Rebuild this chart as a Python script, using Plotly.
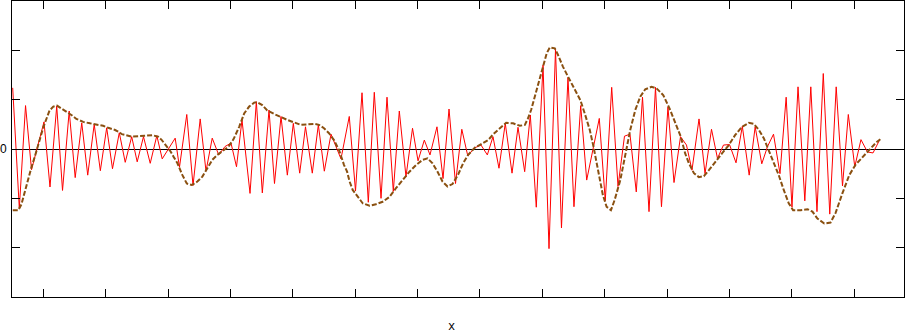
import plotly.graph_objects as go

# red modulated signal: extremes (x in tick units, y values)
signal_x = [-0.491, -0.385, -0.285, -0.189, 0.011, 0.107, 0.215, 0.308, 0.415, 0.511,
            0.616, 0.712, 0.816, 0.914, 1.016, 1.109, 1.218, 1.313, 1.417, 1.505,
            1.606, 1.714, 1.820, 1.906, 2.114, 2.183, 2.300, 2.400, 2.515, 2.608,
            2.708, 2.812, 2.913, 3.009, 3.097, 3.185, 3.314, 3.415, 3.511, 3.618,
            3.706, 3.811, 3.912, 4.008, 4.110, 4.203, 4.312, 4.409, 4.505, 4.612,
            4.772, 4.905, 5.005, 5.109, 5.210, 5.306, 5.414, 5.510, 5.611, 5.707,
            5.814, 5.919, 6.007, 6.108, 6.199, 6.311, 6.408, 6.504, 6.608, 6.709,
            6.805, 6.909, 7.017, 7.118, 7.209, 7.305, 7.406, 7.514, 7.610, 7.717,
            7.807, 7.903, 8.011, 8.107, 8.211, 8.307, 8.411, 8.507, 8.615, 8.711,
            8.913, 9.009, 9.112, 9.213, 9.317, 9.405, 9.506, 9.606, 9.710, 9.814,
            9.910, 10.014, 10.111, 10.215, 10.311, 10.399, 10.512, 10.608, 10.712, 10.808,
            10.904, 11.001, 11.105, 11.206, 11.316, 11.412, 11.518, 11.610, 11.706, 11.810,
            11.909, 12.002, 12.099, 12.208, 12.304, 12.403, 12.504, 12.608, 12.711, 12.812,
            12.905, 13.009, 13.108, 13.212, 13.301, 13.405]
signal_y = [1.24, -1.20, 0.88, -0.42, 0.55, -0.77, 0.87, -0.84, 0.77, -0.58,
            0.53, -0.53, 0.50, -0.44, 0.43, -0.40, 0.33, -0.27, 0.25, -0.26,
            0.25, -0.29, 0.27, -0.20, 0.22, -0.37, 0.70, -0.74, 0.61, -0.45,
            0.22, -0.12, 0.05, 0.12, -0.36, 0.59, -0.90, 0.96, -0.89, 0.79,
            -0.70, 0.66, -0.53, 0.52, -0.49, 0.45, -0.49, 0.49, -0.45, 0.30,
            -0.20, 0.66, -0.85, 1.14, -1.08, 1.15, -1.00, 1.05, -0.86, 0.77,
            -0.56, 0.42, -0.24, 0.18, -0.12, 0.45, -0.60, 0.81, -0.70, 0.40,
            -0.14, 0.02, 0.08, -0.12, 0.25, -0.39, 0.52, -0.49, 0.44, -0.46,
            0.69, -1.18, 1.70, -2.02, 2.02, -1.60, 1.45, -1.17, 0.88, -0.63,
            0.62, -1.05, 1.25, -0.76, 0.26, 0.30, -0.87, 1.05, -1.27, 1.25,
            -1.17, 0.85, -0.68, 0.25, 0.08, -0.43, 0.61, -0.50, 0.40, -0.19,
            0.08, 0.09, -0.28, 0.46, -0.53, 0.45, -0.30, 0.05, 0.30, -0.50,
            1.05, -1.18, 1.26, -1.05, 1.26, -1.27, 1.53, -1.32, 1.26, -0.75,
            0.70, -0.36, 0.19, -0.06, -0.08, 0.18]

# brown dashed envelope
envelope_x = [-0.49, -0.40, -0.35, -0.29, -0.24, -0.19, -0.14, -0.105, -0.05, 0.0,
              0.05, 0.10, 0.16, 0.22, 0.29, 0.37, 0.45, 0.53, 0.64, 0.75,
              0.86, 0.96, 1.04, 1.15, 1.23, 1.26, 1.42, 1.53, 1.64, 1.75,
              1.84, 1.90, 1.98, 2.04, 2.09, 2.15, 2.23, 2.30, 2.38, 2.47,
              2.55, 2.63, 2.71, 2.79, 2.87, 2.97, 3.05, 3.14, 3.22, 3.30,
              3.38, 3.43, 3.51, 3.59, 3.70, 3.81, 3.91, 4.02, 4.13, 4.23,
              4.34, 4.42, 4.50, 4.58, 4.66, 4.74, 4.82, 4.87, 4.91, 4.96,
              5.04, 5.12, 5.23, 5.33, 5.44, 5.55, 5.65, 5.76, 5.87, 5.98,
              6.08, 6.16, 6.24, 6.32, 6.40, 6.48, 6.56, 6.65, 6.73, 6.81,
              6.92, 7.02, 7.13, 7.23, 7.34, 7.42, 7.53, 7.64, 7.72, 7.77,
              7.82, 7.90, 7.96, 8.01, 8.07, 8.12, 8.20, 8.25, 8.33, 8.41,
              8.44, 8.52, 8.61, 8.68, 8.76, 8.82, 8.87, 8.92, 8.97, 9.03,
              9.10, 9.16, 9.25, 9.33, 9.41, 9.49, 9.57, 9.65, 9.75, 9.83,
              9.94, 10.05, 10.13, 10.21, 10.24, 10.29, 10.35, 10.43, 10.51, 10.59,
              10.67, 10.77, 10.88, 10.99, 11.09, 11.20, 11.31, 11.39, 11.47, 11.55,
              11.63, 11.71, 11.79, 11.87, 11.95, 12.02, 12.14, 12.25, 12.33, 12.41,
              12.52, 12.62, 12.70, 12.81, 12.92, 13.02, 13.13, 13.24, 13.35, 13.42]
envelope_y = [-1.24, -1.24, -1.12, -0.82, -0.57, -0.37, -0.17, 0.0, 0.22, 0.44,
              0.63, 0.78, 0.86, 0.88, 0.82, 0.76, 0.69, 0.61, 0.55, 0.52,
              0.49, 0.47, 0.43, 0.385, 0.33, 0.30, 0.25, 0.26, 0.28, 0.28,
              0.25, 0.18, 0.05, -0.05, -0.16, -0.29, -0.53, -0.70, -0.73, -0.66,
              -0.56, -0.39, -0.22, -0.12, -0.05, 0.05, 0.20, 0.45, 0.72, 0.86,
              0.94, 0.95, 0.89, 0.78, 0.71, 0.64, 0.59, 0.54, 0.49, 0.50,
              0.51, 0.49, 0.42, 0.32, 0.18, -0.02, -0.32, -0.46, -0.66, -0.83,
              -0.97, -1.10, -1.15, -1.12, -1.07, -0.97, -0.80, -0.63, -0.46, -0.32,
              -0.22, -0.19, -0.29, -0.46, -0.66, -0.76, -0.71, -0.52, -0.29, -0.12,
              0.03, 0.10, 0.18, 0.32, 0.45, 0.53, 0.52, 0.47, 0.49, 0.62,
              0.79, 1.16, 1.43, 1.70, 1.94, 2.06, 2.04, 1.91, 1.67, 1.47,
              1.40, 1.20, 0.99, 0.72, 0.39, 0.05, -0.29, -0.63, -0.93, -1.17,
              -1.24, -1.03, -0.63, -0.12, 0.39, 0.79, 1.06, 1.21, 1.26, 1.23,
              1.09, 0.79, 0.55, 0.28, 0.15, -0.09, -0.29, -0.49, -0.57, -0.55,
              -0.43, -0.26, -0.09, 0.08, 0.28, 0.45, 0.53, 0.51, 0.39, 0.22,
              -0.02, -0.26, -0.53, -0.83, -1.10, -1.24, -1.24, -1.22, -1.27, -1.41,
              -1.51, -1.49, -1.30, -0.90, -0.53, -0.32, -0.17, -0.02, 0.13, 0.20]

x_ticks = list(range(0, 14))
y_ticks = [-2, -1, 0, 1, 2]
y_tick_text = ["", "", "0", "", ""]
x_title = "x"

fig = go.Figure()
fig.add_trace(go.Scatter(x=signal_x, y=signal_y, mode="lines",
                         line=dict(color="#ff0000", width=1), showlegend=False))
fig.add_trace(go.Scatter(x=envelope_x, y=envelope_y, mode="lines",
                         line=dict(color="#8a5010", width=2, dash="5px,2px"),
                         showlegend=False))

fig.update_layout(
    width=906, height=334,
    margin=dict(l=12, r=2, t=1, b=37),
    paper_bgcolor="white", plot_bgcolor="white",
    font=dict(family="Liberation Sans", size=12, color="black"),
    xaxis=dict(range=[-0.502, 13.798], tickvals=x_ticks, showticklabels=False,
               ticks="inside", ticklen=8, tickcolor="black", tickwidth=1,
               showline=True, linecolor="black", linewidth=1, mirror="ticks",
               showgrid=False, zeroline=False),
    yaxis=dict(range=[-3, 3], tickvals=y_ticks, ticktext=y_tick_text,
               ticks="inside", ticklen=8, tickcolor="black", tickwidth=1,
               ticklabelstandoff=2,
               showline=True, linecolor="black", linewidth=1, mirror="ticks",
               showgrid=False, zeroline=True, zerolinecolor="black", zerolinewidth=1),
    annotations=[dict(text=x_title, x=6.536, xref="x", y=-0.101, yref="paper",
                      showarrow=False, xanchor="center", yanchor="middle",
                      font=dict(family="Liberation Mono", size=12))],
)

fig.write_html("out.html")
